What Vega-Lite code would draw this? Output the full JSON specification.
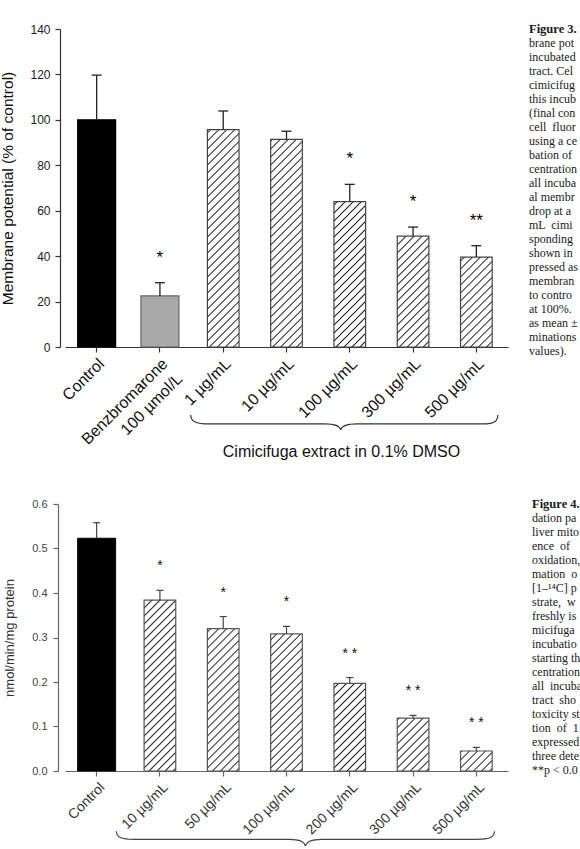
{
  "$schema": "https://vega.github.io/schema/vega-lite/v6.json",
  "background": "white",
  "padding": {"left": 0, "top": 23, "right": 0, "bottom": 0},
  "config": {
    "font": "Liberation Sans",
    "view": {"stroke": null},
    "axis": {"grid": false, "domainWidth": 1.2, "tickWidth": 1.2}
  },
  "datasets": {
    "membrane": [
      {"group": "Control", "value": 100, "upper": 119.7, "sig": "", "kind": "control"},
      {"group": "Benzbromarone 100 µmol/L", "value": 22.5, "upper": 28.3, "sig": "*", "kind": "benz"},
      {"group": "1 µg/mL", "value": 95.7, "upper": 103.9, "sig": "", "kind": "extract"},
      {"group": "10 µg/mL", "value": 91.4, "upper": 95.0, "sig": "", "kind": "extract"},
      {"group": "100 µg/mL", "value": 64.0, "upper": 71.6, "sig": "*", "kind": "extract"},
      {"group": "300 µg/mL", "value": 48.8, "upper": 52.8, "sig": "*", "kind": "extract"},
      {"group": "500 µg/mL", "value": 39.6, "upper": 44.6, "sig": "**", "kind": "extract"}
    ],
    "oxidation": [
      {"group": "Control", "value": 0.523, "upper": 0.558, "sig": "", "kind": "control"},
      {"group": "10 µg/mL", "value": 0.384, "upper": 0.406, "sig": "*", "kind": "extract"},
      {"group": "50 µg/mL", "value": 0.320, "upper": 0.347, "sig": "*", "kind": "extract"},
      {"group": "100 µg/mL", "value": 0.308, "upper": 0.325, "sig": "*", "kind": "extract"},
      {"group": "200 µg/mL", "value": 0.197, "upper": 0.210, "sig": "* *", "kind": "extract"},
      {"group": "300 µg/mL", "value": 0.119, "upper": 0.125, "sig": "* *", "kind": "extract"},
      {"group": "500 µg/mL", "value": 0.045, "upper": 0.053, "sig": "* *", "kind": "extract"}
    ],
    "caption3": [
      {"line": 1, "text": "Figure 3."},
      {"line": 2, "text": "brane pot"},
      {"line": 3, "text": "incubated"},
      {"line": 4, "text": "tract. Cel"},
      {"line": 5, "text": "cimicifuga"},
      {"line": 6, "text": "this incub"},
      {"line": 7, "text": "(final conc"},
      {"line": 8, "text": "cell \u00a0fluor"},
      {"line": 9, "text": "using a ce"},
      {"line": 10, "text": "bation of"},
      {"line": 11, "text": "centration"},
      {"line": 12, "text": "all incuba"},
      {"line": 13, "text": "al membr"},
      {"line": 14, "text": "drop at a c"},
      {"line": 15, "text": "mL \u00a0cimi"},
      {"line": 16, "text": "sponding"},
      {"line": 17, "text": "shown in"},
      {"line": 18, "text": "pressed as"},
      {"line": 19, "text": "membran"},
      {"line": 20, "text": "to contro"},
      {"line": 21, "text": "at 100%."},
      {"line": 22, "text": "as mean ±"},
      {"line": 23, "text": "minations"},
      {"line": 24, "text": "values)."}
    ],
    "caption4": [
      {"line": 1, "text": "Figure 4."},
      {"line": 2, "text": "dation pa"},
      {"line": 3, "text": "liver mito"},
      {"line": 4, "text": "ence \u00a0of"},
      {"line": 5, "text": "oxidation,"},
      {"line": 6, "text": "mation \u00a0o"},
      {"line": 7, "text": "[1–¹⁴C] p"},
      {"line": 8, "text": "strate, \u00a0w"},
      {"line": 9, "text": "freshly iso"},
      {"line": 10, "text": "micifuga e"},
      {"line": 11, "text": "incubation"},
      {"line": 12, "text": "starting th"},
      {"line": 13, "text": "centration"},
      {"line": 14, "text": "all \u00a0incuba"},
      {"line": 15, "text": "tract \u00a0sho"},
      {"line": 16, "text": "toxicity st"},
      {"line": 17, "text": "tion \u00a0of \u00a01"},
      {"line": 18, "text": "expressed"},
      {"line": 19, "text": "three dete"},
      {"line": 20, "text": "**p < 0.01"}
    ]
  },
  "vconcat": [
    {
      "hconcat": [
        {
          "width": 443,
          "height": 318,
          "data": {"name": "membrane"},
          "encoding": {
            "x": {
              "field": "group",
              "type": "nominal",
              "sort": null,
              "scale": {
                "domain": ["Control", "Benzbromarone 100 µmol/L", "1 µg/mL", "10 µg/mL", "100 µg/mL", "300 µg/mL", "500 µg/mL"],
                "paddingInner": 0,
                "paddingOuter": 0
              },
              "axis": {
                "title": "Cimicifuga extract in 0.1% DMSO",
                "titleX": 276,
                "titleY": 109,
                "titleBaseline": "alphabetic",
                "titleFontSize": 16,
                "titleFontWeight": "normal",
                "titleColor": "#111",
                "labelAngle": -45,
                "labelAlign": "right",
                "labelBaseline": "middle",
                "labelFontSize": 16,
                "labelColor": "#111",
                "labelPadding": 9,
                "labelOffset": 5,
                "labelLineHeight": 21,
                "labelOverlap": false,
                "labelBound": false,
                "labelExpr": "datum.label == 'Benzbromarone 100 µmol/L' ? ['Benzbromarone', '100 µmol/L\u00a0\u00a0\u00a0\u00a0'] : datum.label",
                "tickSize": 5,
                "tickColor": "#333",
                "domainColor": "#333",
                "grid": false
              }
            }
          },
          "layer": [
            {
              "transform": [{"filter": "datum.kind == 'extract'"}],
              "mark": {
                "type": "bar",
                "width": {"band": 0.5},
                "fill": {
                  "gradient": "linear", "x1": 0, "y1": 0, "x2": 0.1239, "y2": 1.2455,
                  "stops": [
                    {"offset": 0, "color": "#fff"},
                    {"offset": 0.0165, "color": "#fff"}, {"offset": 0.02, "color": "#222"}, {"offset": 0.0235, "color": "#fff"},
                    {"offset": 0.0365, "color": "#fff"}, {"offset": 0.04, "color": "#222"}, {"offset": 0.0435, "color": "#fff"},
                    {"offset": 0.0565, "color": "#fff"}, {"offset": 0.06, "color": "#222"}, {"offset": 0.0635, "color": "#fff"},
                    {"offset": 0.0765, "color": "#fff"}, {"offset": 0.08, "color": "#222"}, {"offset": 0.0835, "color": "#fff"},
                    {"offset": 0.0965, "color": "#fff"}, {"offset": 0.1, "color": "#222"}, {"offset": 0.1035, "color": "#fff"},
                    {"offset": 0.1165, "color": "#fff"}, {"offset": 0.12, "color": "#222"}, {"offset": 0.1235, "color": "#fff"},
                    {"offset": 0.1365, "color": "#fff"}, {"offset": 0.14, "color": "#222"}, {"offset": 0.1435, "color": "#fff"},
                    {"offset": 0.1565, "color": "#fff"}, {"offset": 0.16, "color": "#222"}, {"offset": 0.1635, "color": "#fff"},
                    {"offset": 0.1765, "color": "#fff"}, {"offset": 0.18, "color": "#222"}, {"offset": 0.1835, "color": "#fff"},
                    {"offset": 0.1965, "color": "#fff"}, {"offset": 0.2, "color": "#222"}, {"offset": 0.2035, "color": "#fff"},
                    {"offset": 0.2165, "color": "#fff"}, {"offset": 0.22, "color": "#222"}, {"offset": 0.2235, "color": "#fff"},
                    {"offset": 0.2365, "color": "#fff"}, {"offset": 0.24, "color": "#222"}, {"offset": 0.2435, "color": "#fff"},
                    {"offset": 0.2565, "color": "#fff"}, {"offset": 0.26, "color": "#222"}, {"offset": 0.2635, "color": "#fff"},
                    {"offset": 0.2765, "color": "#fff"}, {"offset": 0.28, "color": "#222"}, {"offset": 0.2835, "color": "#fff"},
                    {"offset": 0.2965, "color": "#fff"}, {"offset": 0.3, "color": "#222"}, {"offset": 0.3035, "color": "#fff"},
                    {"offset": 0.3165, "color": "#fff"}, {"offset": 0.32, "color": "#222"}, {"offset": 0.3235, "color": "#fff"},
                    {"offset": 0.3365, "color": "#fff"}, {"offset": 0.34, "color": "#222"}, {"offset": 0.3435, "color": "#fff"},
                    {"offset": 0.3565, "color": "#fff"}, {"offset": 0.36, "color": "#222"}, {"offset": 0.3635, "color": "#fff"},
                    {"offset": 0.3765, "color": "#fff"}, {"offset": 0.38, "color": "#222"}, {"offset": 0.3835, "color": "#fff"},
                    {"offset": 0.3965, "color": "#fff"}, {"offset": 0.4, "color": "#222"}, {"offset": 0.4035, "color": "#fff"},
                    {"offset": 0.4165, "color": "#fff"}, {"offset": 0.42, "color": "#222"}, {"offset": 0.4235, "color": "#fff"},
                    {"offset": 0.4365, "color": "#fff"}, {"offset": 0.44, "color": "#222"}, {"offset": 0.4435, "color": "#fff"},
                    {"offset": 0.4565, "color": "#fff"}, {"offset": 0.46, "color": "#222"}, {"offset": 0.4635, "color": "#fff"},
                    {"offset": 0.4765, "color": "#fff"}, {"offset": 0.48, "color": "#222"}, {"offset": 0.4835, "color": "#fff"},
                    {"offset": 0.4965, "color": "#fff"}, {"offset": 0.5, "color": "#222"}, {"offset": 0.5035, "color": "#fff"},
                    {"offset": 0.5165, "color": "#fff"}, {"offset": 0.52, "color": "#222"}, {"offset": 0.5235, "color": "#fff"},
                    {"offset": 0.5365, "color": "#fff"}, {"offset": 0.54, "color": "#222"}, {"offset": 0.5435, "color": "#fff"},
                    {"offset": 0.5565, "color": "#fff"}, {"offset": 0.56, "color": "#222"}, {"offset": 0.5635, "color": "#fff"},
                    {"offset": 0.5765, "color": "#fff"}, {"offset": 0.58, "color": "#222"}, {"offset": 0.5835, "color": "#fff"},
                    {"offset": 0.5965, "color": "#fff"}, {"offset": 0.6, "color": "#222"}, {"offset": 0.6035, "color": "#fff"},
                    {"offset": 0.6165, "color": "#fff"}, {"offset": 0.62, "color": "#222"}, {"offset": 0.6235, "color": "#fff"},
                    {"offset": 0.6365, "color": "#fff"}, {"offset": 0.64, "color": "#222"}, {"offset": 0.6435, "color": "#fff"},
                    {"offset": 0.6565, "color": "#fff"}, {"offset": 0.66, "color": "#222"}, {"offset": 0.6635, "color": "#fff"},
                    {"offset": 0.6765, "color": "#fff"}, {"offset": 0.68, "color": "#222"}, {"offset": 0.6835, "color": "#fff"},
                    {"offset": 0.6965, "color": "#fff"}, {"offset": 0.7, "color": "#222"}, {"offset": 0.7035, "color": "#fff"},
                    {"offset": 0.7165, "color": "#fff"}, {"offset": 0.72, "color": "#222"}, {"offset": 0.7235, "color": "#fff"},
                    {"offset": 0.7365, "color": "#fff"}, {"offset": 0.74, "color": "#222"}, {"offset": 0.7435, "color": "#fff"},
                    {"offset": 0.7565, "color": "#fff"}, {"offset": 0.76, "color": "#222"}, {"offset": 0.7635, "color": "#fff"},
                    {"offset": 0.7765, "color": "#fff"}, {"offset": 0.78, "color": "#222"}, {"offset": 0.7835, "color": "#fff"},
                    {"offset": 0.7965, "color": "#fff"}, {"offset": 0.8, "color": "#222"}, {"offset": 0.8035, "color": "#fff"},
                    {"offset": 0.8165, "color": "#fff"}, {"offset": 0.82, "color": "#222"}, {"offset": 0.8235, "color": "#fff"},
                    {"offset": 0.8365, "color": "#fff"}, {"offset": 0.84, "color": "#222"}, {"offset": 0.8435, "color": "#fff"},
                    {"offset": 0.8565, "color": "#fff"}, {"offset": 0.86, "color": "#222"}, {"offset": 0.8635, "color": "#fff"},
                    {"offset": 0.8765, "color": "#fff"}, {"offset": 0.88, "color": "#222"}, {"offset": 0.8835, "color": "#fff"},
                    {"offset": 1, "color": "#fff"}
                  ]
                }
              },
              "encoding": {
                "y": {
                  "datum": 0,
                  "type": "quantitative",
                  "scale": {"domain": [0, 140], "nice": false},
                  "axis": {
                    "title": "Membrane potential (% of control)",
                    "values": [0, 20, 40, 60, 80, 100, 120, 140],
                    "offset": 5,
                    "tickSize": 5,
                    "labelPadding": 5,
                    "labelFontSize": 12,
                    "labelColor": "#222",
                    "titleFontSize": 15.5,
                    "titleFontWeight": "normal",
                    "titleColor": "#111",
                    "titlePadding": 14,
                    "domainColor": "#333",
                    "tickColor": "#333",
                    "grid": false
                  }
                },
                "y2": {"datum": 140}
              }
            },
            {
              "transform": [{"filter": "datum.kind == 'extract'"}],
              "mark": {"type": "bar", "width": {"band": 0.54}, "fill": "#ffffff"},
              "encoding": {
                "y": {"field": "value", "type": "quantitative"},
                "y2": {"datum": 140}
              }
            },
            {
              "transform": [{"filter": "datum.kind == 'extract'"}],
              "mark": {"type": "bar", "width": {"band": 0.5}, "fill": "#ffffff", "fillOpacity": 0, "stroke": "#444", "strokeWidth": 1.2},
              "encoding": {
                "y": {"field": "value", "type": "quantitative"}
              }
            },
            {
              "transform": [{"filter": "datum.kind != 'extract'"}],
              "mark": {"type": "bar", "width": {"band": 0.6}, "strokeWidth": 1.2},
              "encoding": {
                "y": {"field": "value", "type": "quantitative"},
                "fill": {"field": "kind", "type": "nominal", "scale": {"domain": ["control", "benz"], "range": ["#000000", "#a9a9a9"]}, "legend": null},
                "stroke": {"field": "kind", "type": "nominal", "scale": {"domain": ["control", "benz"], "range": ["#000000", "#666666"]}, "legend": null}
              }
            },
            {
              "mark": {"type": "rule", "color": "#222", "strokeWidth": 1.3},
              "encoding": {
                "y": {"field": "value", "type": "quantitative"},
                "y2": {"field": "upper"}
              }
            },
            {
              "mark": {"type": "tick", "color": "#222", "size": 10, "thickness": 1.3, "opacity": 1},
              "encoding": {
                "y": {"field": "upper", "type": "quantitative"}
              }
            },
            {
              "transform": [{"filter": "datum.sig != ''"}],
              "mark": {"type": "text", "fontSize": 17, "baseline": "alphabetic", "dy": -20, "color": "#000"},
              "encoding": {
                "y": {"field": "upper", "type": "quantitative"},
                "text": {"field": "sig", "type": "nominal"}
              }
            },
            {
              "transform": [{"filter": "datum.group == '100 µg/mL'"}],
              "mark": {
                "type": "point",
                "shape": "M-0.994,-0.044C-0.994,-0.006,-0.969,0.0125,-0.875,0.0125L-0.156,0.0125C-0.094,0.0125,-0.0625,0.025,-0.056,0.05C-0.05,0.025,-0.019,0.0125,0.044,0.0125L0.831,0.0125C0.906,0.0125,0.925,-0.006,0.925,-0.044",
                "size": 102400,
                "filled": false,
                "color": "#333",
                "strokeWidth": 1.2,
                "opacity": 1
              },
              "encoding": {
                "y": {"datum": -33, "type": "quantitative"}
              }
            }
          ]
        },
        {
          "width": 1,
          "height": 322,
          "data": {"name": "caption3"},
          "encoding": {
            "y": {"field": "line", "type": "quantitative", "scale": {"domain": [1, 24], "reverse": true, "nice": false, "zero": false}, "axis": null},
            "text": {"field": "text", "type": "nominal"}
          },
          "layer": [
            {
              "transform": [{"filter": "datum.line == 1"}],
              "mark": {"type": "text", "align": "left", "baseline": "middle", "font": "Liberation Serif", "fontSize": 12.5, "fontWeight": "bold", "color": "#1a1a1a", "limit": 50, "ellipsis": "\u200b"}
            },
            {
              "transform": [{"filter": "datum.line > 1"}],
              "mark": {"type": "text", "align": "left", "baseline": "middle", "font": "Liberation Serif", "fontSize": 12, "color": "#1a1a1a", "limit": 50, "ellipsis": "\u200b"}
            }
          ]
        }
      ],
      "spacing": 20.5
    },
    {
      "hconcat": [
        {
          "width": 443,
          "height": 267,
          "data": {"name": "oxidation"},
          "encoding": {
            "x": {
              "field": "group",
              "type": "nominal",
              "sort": null,
              "scale": {
                "domain": ["Control", "10 µg/mL", "50 µg/mL", "100 µg/mL", "200 µg/mL", "300 µg/mL", "500 µg/mL"],
                "paddingInner": 0,
                "paddingOuter": 0
              },
              "axis": {
                "title": null,
                "labelAngle": -45,
                "labelAlign": "right",
                "labelBaseline": "middle",
                "labelFontSize": 14,
                "labelColor": "#333",
                "labelPadding": 9,
                "labelOffset": 6,
                "labelOverlap": false,
                "labelBound": false,
                "tickSize": 5,
                "tickColor": "#666",
                "domainColor": "#666",
                "grid": false
              }
            }
          },
          "layer": [
            {
              "transform": [{"filter": "datum.kind == 'extract'"}],
              "mark": {
                "type": "bar",
                "width": {"band": 0.5},
                "fill": {
                  "gradient": "linear", "x1": 0, "y1": 0, "x2": 0.1751, "y2": 1.4774,
                  "stops": [
                    {"offset": 0, "color": "#fff"},
                    {"offset": 0.0165, "color": "#fff"}, {"offset": 0.02, "color": "#222"}, {"offset": 0.0235, "color": "#fff"},
                    {"offset": 0.0365, "color": "#fff"}, {"offset": 0.04, "color": "#222"}, {"offset": 0.0435, "color": "#fff"},
                    {"offset": 0.0565, "color": "#fff"}, {"offset": 0.06, "color": "#222"}, {"offset": 0.0635, "color": "#fff"},
                    {"offset": 0.0765, "color": "#fff"}, {"offset": 0.08, "color": "#222"}, {"offset": 0.0835, "color": "#fff"},
                    {"offset": 0.0965, "color": "#fff"}, {"offset": 0.1, "color": "#222"}, {"offset": 0.1035, "color": "#fff"},
                    {"offset": 0.1165, "color": "#fff"}, {"offset": 0.12, "color": "#222"}, {"offset": 0.1235, "color": "#fff"},
                    {"offset": 0.1365, "color": "#fff"}, {"offset": 0.14, "color": "#222"}, {"offset": 0.1435, "color": "#fff"},
                    {"offset": 0.1565, "color": "#fff"}, {"offset": 0.16, "color": "#222"}, {"offset": 0.1635, "color": "#fff"},
                    {"offset": 0.1765, "color": "#fff"}, {"offset": 0.18, "color": "#222"}, {"offset": 0.1835, "color": "#fff"},
                    {"offset": 0.1965, "color": "#fff"}, {"offset": 0.2, "color": "#222"}, {"offset": 0.2035, "color": "#fff"},
                    {"offset": 0.2165, "color": "#fff"}, {"offset": 0.22, "color": "#222"}, {"offset": 0.2235, "color": "#fff"},
                    {"offset": 0.2365, "color": "#fff"}, {"offset": 0.24, "color": "#222"}, {"offset": 0.2435, "color": "#fff"},
                    {"offset": 0.2565, "color": "#fff"}, {"offset": 0.26, "color": "#222"}, {"offset": 0.2635, "color": "#fff"},
                    {"offset": 0.2765, "color": "#fff"}, {"offset": 0.28, "color": "#222"}, {"offset": 0.2835, "color": "#fff"},
                    {"offset": 0.2965, "color": "#fff"}, {"offset": 0.3, "color": "#222"}, {"offset": 0.3035, "color": "#fff"},
                    {"offset": 0.3165, "color": "#fff"}, {"offset": 0.32, "color": "#222"}, {"offset": 0.3235, "color": "#fff"},
                    {"offset": 0.3365, "color": "#fff"}, {"offset": 0.34, "color": "#222"}, {"offset": 0.3435, "color": "#fff"},
                    {"offset": 0.3565, "color": "#fff"}, {"offset": 0.36, "color": "#222"}, {"offset": 0.3635, "color": "#fff"},
                    {"offset": 0.3765, "color": "#fff"}, {"offset": 0.38, "color": "#222"}, {"offset": 0.3835, "color": "#fff"},
                    {"offset": 0.3965, "color": "#fff"}, {"offset": 0.4, "color": "#222"}, {"offset": 0.4035, "color": "#fff"},
                    {"offset": 0.4165, "color": "#fff"}, {"offset": 0.42, "color": "#222"}, {"offset": 0.4235, "color": "#fff"},
                    {"offset": 0.4365, "color": "#fff"}, {"offset": 0.44, "color": "#222"}, {"offset": 0.4435, "color": "#fff"},
                    {"offset": 0.4565, "color": "#fff"}, {"offset": 0.46, "color": "#222"}, {"offset": 0.4635, "color": "#fff"},
                    {"offset": 0.4765, "color": "#fff"}, {"offset": 0.48, "color": "#222"}, {"offset": 0.4835, "color": "#fff"},
                    {"offset": 0.4965, "color": "#fff"}, {"offset": 0.5, "color": "#222"}, {"offset": 0.5035, "color": "#fff"},
                    {"offset": 0.5165, "color": "#fff"}, {"offset": 0.52, "color": "#222"}, {"offset": 0.5235, "color": "#fff"},
                    {"offset": 0.5365, "color": "#fff"}, {"offset": 0.54, "color": "#222"}, {"offset": 0.5435, "color": "#fff"},
                    {"offset": 0.5565, "color": "#fff"}, {"offset": 0.56, "color": "#222"}, {"offset": 0.5635, "color": "#fff"},
                    {"offset": 0.5765, "color": "#fff"}, {"offset": 0.58, "color": "#222"}, {"offset": 0.5835, "color": "#fff"},
                    {"offset": 0.5965, "color": "#fff"}, {"offset": 0.6, "color": "#222"}, {"offset": 0.6035, "color": "#fff"},
                    {"offset": 0.6165, "color": "#fff"}, {"offset": 0.62, "color": "#222"}, {"offset": 0.6235, "color": "#fff"},
                    {"offset": 0.6365, "color": "#fff"}, {"offset": 0.64, "color": "#222"}, {"offset": 0.6435, "color": "#fff"},
                    {"offset": 0.6565, "color": "#fff"}, {"offset": 0.66, "color": "#222"}, {"offset": 0.6635, "color": "#fff"},
                    {"offset": 0.6765, "color": "#fff"}, {"offset": 0.68, "color": "#222"}, {"offset": 0.6835, "color": "#fff"},
                    {"offset": 0.6965, "color": "#fff"}, {"offset": 0.7, "color": "#222"}, {"offset": 0.7035, "color": "#fff"},
                    {"offset": 0.7165, "color": "#fff"}, {"offset": 0.72, "color": "#222"}, {"offset": 0.7235, "color": "#fff"},
                    {"offset": 0.7365, "color": "#fff"}, {"offset": 0.74, "color": "#222"}, {"offset": 0.7435, "color": "#fff"},
                    {"offset": 0.7565, "color": "#fff"}, {"offset": 0.76, "color": "#222"}, {"offset": 0.7635, "color": "#fff"},
                    {"offset": 1, "color": "#fff"}
                  ]
                }
              },
              "encoding": {
                "y": {
                  "datum": 0,
                  "type": "quantitative",
                  "scale": {"domain": [0, 0.6], "nice": false},
                  "axis": {
                    "title": "nmol/min/mg protein",
                    "values": [0, 0.1, 0.2, 0.3, 0.4, 0.5, 0.6],
                    "format": ".1f",
                    "offset": 7,
                    "tickSize": 5,
                    "labelPadding": 6,
                    "labelFontSize": 11,
                    "labelColor": "#444",
                    "titleFontSize": 13,
                    "titleFontWeight": "normal",
                    "titleColor": "#333",
                    "titlePadding": 15,
                    "domainColor": "#666",
                    "tickColor": "#666",
                    "grid": false
                  }
                },
                "y2": {"datum": 0.6}
              }
            },
            {
              "transform": [{"filter": "datum.kind == 'extract'"}],
              "mark": {"type": "bar", "width": {"band": 0.54}, "fill": "#ffffff"},
              "encoding": {
                "y": {"field": "value", "type": "quantitative"},
                "y2": {"datum": 0.6}
              }
            },
            {
              "transform": [{"filter": "datum.kind == 'extract'"}],
              "mark": {"type": "bar", "width": {"band": 0.5}, "fill": "#ffffff", "fillOpacity": 0, "stroke": "#555", "strokeWidth": 1.2},
              "encoding": {
                "y": {"field": "value", "type": "quantitative"}
              }
            },
            {
              "transform": [{"filter": "datum.kind == 'control'"}],
              "mark": {"type": "bar", "width": {"band": 0.6}, "fill": "#000000", "stroke": "#000000", "strokeWidth": 1},
              "encoding": {
                "y": {"field": "value", "type": "quantitative"}
              }
            },
            {
              "mark": {"type": "rule", "color": "#444", "strokeWidth": 1.2},
              "encoding": {
                "y": {"field": "value", "type": "quantitative"},
                "y2": {"field": "upper"}
              }
            },
            {
              "mark": {"type": "tick", "color": "#444", "size": 7, "thickness": 1.2, "opacity": 1},
              "encoding": {
                "y": {"field": "upper", "type": "quantitative"}
              }
            },
            {
              "transform": [{"filter": "datum.sig != ''"}],
              "mark": {"type": "text", "fontSize": 14, "baseline": "alphabetic", "dy": -20, "color": "#111"},
              "encoding": {
                "y": {"field": "upper", "type": "quantitative"},
                "text": {"field": "sig", "type": "nominal"}
              }
            },
            {
              "transform": [{"filter": "datum.group == '100 µg/mL'"}],
              "mark": {
                "type": "point",
                "shape": "M-0.81,-0.038C-0.81,-0.01,-0.79,0,-0.724,0L0.014,0C0.062,0,0.086,0.01,0.09,0.033C0.095,0.01,0.119,0,0.167,0L0.905,0C0.971,0,0.99,-0.01,0.99,-0.038",
                "size": 176400,
                "filled": false,
                "color": "#444",
                "strokeWidth": 1.2,
                "opacity": 1
              },
              "encoding": {
                "y": {"datum": -0.1535, "type": "quantitative"}
              }
            }
          ]
        },
        {
          "width": 1,
          "height": 266,
          "data": {"name": "caption4"},
          "encoding": {
            "y": {"field": "line", "type": "quantitative", "scale": {"domain": [1, 20], "reverse": true, "nice": false, "zero": false}, "axis": null},
            "text": {"field": "text", "type": "nominal"}
          },
          "layer": [
            {
              "transform": [{"filter": "datum.line == 1"}],
              "mark": {"type": "text", "align": "left", "baseline": "middle", "font": "Liberation Serif", "fontSize": 12.5, "fontWeight": "bold", "color": "#1a1a1a", "limit": 50, "ellipsis": "\u200b"}
            },
            {
              "transform": [{"filter": "datum.line > 1"}],
              "mark": {"type": "text", "align": "left", "baseline": "middle", "font": "Liberation Serif", "fontSize": 12, "color": "#1a1a1a", "limit": 50, "ellipsis": "\u200b"}
            }
          ]
        }
      ],
      "spacing": 23.5
    }
  ],
  "spacing": 35
}
